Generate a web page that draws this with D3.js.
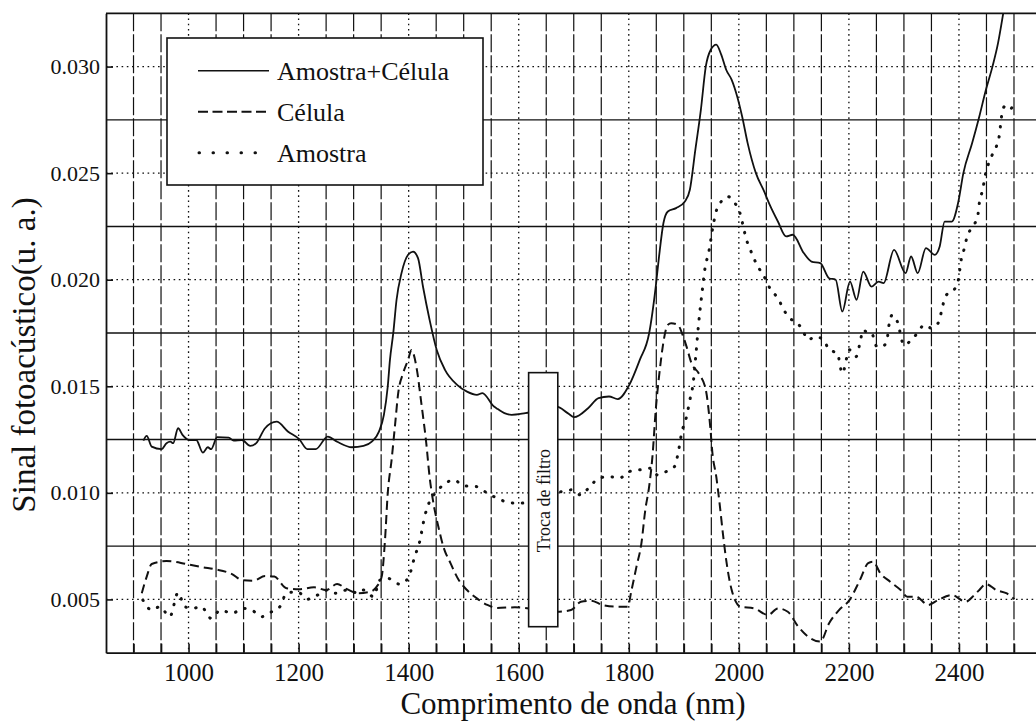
<!DOCTYPE html>
<html>
<head>
<meta charset="utf-8">
<script src="https://cdn.jsdelivr.net/npm/d3@7"></script>
<style>
  html, body { margin: 0; padding: 0; background: #fff; }
  svg { display: block; }
  text { font-family: "Liberation Serif", "DejaVu Serif", serif; fill: #111; }
</style>
</head>
<body>
<svg id="chart" width="1036" height="722"></svg>
<script>
// ---------------- data ----------------
const wavelengthLabelTicks = [1000, 1200, 1400, 1600, 1800, 2000, 2200, 2400];
const wavelengthGridTicks = [900, 950, 1000, 1050, 1100, 1150, 1200, 1250, 1300, 1350, 1400, 1450, 1500,
  1550, 1600, 1650, 1700, 1750, 1800, 1850, 1900, 1950, 2000, 2050, 2100, 2150, 2200, 2250, 2300,
  2350, 2400, 2450, 2500];
const signalTicks = [0.005, 0.010, 0.015, 0.020, 0.025, 0.030];
const signalMidLines = [0.0075, 0.0125, 0.0175, 0.0225, 0.0275];
const seriesNames = ["Amostra+Célula", "Célula", "Amostra"];

const amostraCelulaNm = [918, 924, 933, 951, 960, 967, 972, 981, 989, 1001, 1014, 1026, 1035, 1041, 1052,
  1073, 1082, 1097, 1112, 1123, 1139, 1160, 1181, 1201, 1216, 1231, 1253, 1270, 1297, 1318, 1333, 1346,
  1355, 1362, 1366, 1372, 1378, 1387, 1399, 1408, 1417, 1426, 1438, 1451, 1466, 1488, 1506, 1524, 1534,
  1555, 1562, 1574, 1587, 1612, 1669, 1689, 1701, 1726, 1745, 1764, 1780, 1801, 1820, 1837, 1849, 1855,
  1863, 1871, 1886, 1902, 1911, 1921, 1931, 1940, 1949, 1959, 1968, 1977, 1987, 1997, 2006, 2016, 2031,
  2046, 2056, 2071, 2086, 2098, 2118, 2132, 2148, 2164, 2176, 2188, 2202, 2214, 2226, 2241, 2254, 2263,
  2282, 2303, 2313, 2325, 2340, 2356, 2365, 2374, 2387, 2399, 2408, 2424, 2437, 2449, 2461, 2471, 2480, 2486];
const amostraCelulaSignal = [0.01245, 0.01267, 0.01217, 0.01205, 0.01233, 0.0124, 0.01233, 0.01303, 0.01272,
  0.01248, 0.01248, 0.01189, 0.01214, 0.01205, 0.01261, 0.01259, 0.01245, 0.01248, 0.0122, 0.01233, 0.01303,
  0.01334, 0.01287, 0.01252, 0.01205, 0.01205, 0.01264, 0.0124, 0.01214, 0.0122, 0.0124, 0.01287, 0.01366,
  0.01499, 0.01624, 0.01749, 0.01906, 0.02031, 0.02117, 0.02132, 0.02101, 0.01968, 0.01812, 0.0167, 0.01577,
  0.01507, 0.01475, 0.0146, 0.01468, 0.01405, 0.01393, 0.01374, 0.01366, 0.01374, 0.01405, 0.01374, 0.01355,
  0.01397, 0.01444, 0.01452, 0.0144, 0.01507, 0.01624, 0.01749, 0.01968, 0.02109, 0.02266, 0.0232, 0.02336,
  0.02367, 0.02422, 0.0261, 0.02797, 0.03001, 0.03079, 0.03103, 0.03056, 0.02985, 0.02938, 0.0286, 0.02766,
  0.02641, 0.025, 0.02414, 0.02352, 0.02273, 0.02203, 0.02211, 0.02125, 0.02085, 0.02078, 0.02007, 0.02,
  0.01851, 0.01991, 0.01906, 0.02038, 0.01968, 0.01991, 0.01984, 0.0214, 0.02031, 0.02109, 0.02031, 0.02148,
  0.02117, 0.02156, 0.02273, 0.02273, 0.02367, 0.025, 0.02641, 0.02766, 0.02891, 0.03001, 0.0311, 0.03243, 0.0334];

const celulaNm = [915, 924, 933, 960, 996, 1026, 1049, 1079, 1097, 1118, 1139, 1156, 1178, 1201, 1228, 1250,
  1270, 1288, 1309, 1330, 1342, 1351, 1357, 1362, 1369, 1375, 1381, 1390, 1399, 1405, 1415, 1423, 1432, 1438,
  1444, 1454, 1463, 1476, 1491, 1506, 1524, 1543, 1561, 1593, 1669, 1695, 1713, 1732, 1752, 1777, 1798, 1805,
  1814, 1823, 1830, 1837, 1843, 1849, 1855, 1871, 1877, 1889, 1899, 1905, 1914, 1927, 1940, 1948, 1952, 1959,
  1965, 1971, 1977, 1987, 2003, 2028, 2053, 2071, 2089, 2108, 2126, 2148, 2164, 2182, 2201, 2220, 2235, 2244,
  2257, 2275, 2294, 2306, 2322, 2344, 2362, 2387, 2412, 2428, 2437, 2449, 2468, 2486, 2501];
const celulaSignal = [0.00529, 0.00607, 0.00666, 0.0068, 0.00666, 0.00651, 0.00641, 0.00619, 0.00591, 0.00588,
  0.0061, 0.00607, 0.00552, 0.00548, 0.00557, 0.00544, 0.00572, 0.00548, 0.00529, 0.00536, 0.0056, 0.00607,
  0.00779, 0.00998, 0.01155, 0.01311, 0.01468, 0.01562, 0.01625, 0.0167, 0.01577, 0.01421, 0.01233, 0.01076,
  0.00967, 0.00841, 0.00748, 0.0067, 0.00591, 0.00544, 0.00505, 0.00474, 0.0046, 0.00463, 0.00442, 0.0045,
  0.00489, 0.00494, 0.00474, 0.00466, 0.00466, 0.00544, 0.00654, 0.00764, 0.0092, 0.01029, 0.0117, 0.01389,
  0.01546, 0.01788, 0.01796, 0.01788, 0.01733, 0.01686, 0.01608, 0.01561, 0.01483, 0.01311, 0.01186, 0.01076,
  0.00951, 0.0081, 0.00685, 0.00544, 0.00466, 0.00458, 0.00427, 0.00458, 0.00442, 0.00372, 0.00325, 0.00302,
  0.00388, 0.0045, 0.00497, 0.00591, 0.0067, 0.00677, 0.00623, 0.00583, 0.00544, 0.00513, 0.00513, 0.00474,
  0.00497, 0.00521, 0.00489, 0.00521, 0.00544, 0.00572, 0.00544, 0.00529, 0.00501];

const amostraNm = [917, 933, 948, 966, 981, 993, 1007, 1023, 1041, 1058, 1079, 1100, 1115, 1133, 1151, 1166,
  1178, 1198, 1216, 1235, 1253, 1267, 1288, 1309, 1318, 1336, 1348, 1362, 1383, 1399, 1411, 1420, 1429, 1438,
  1448, 1463, 1482, 1500, 1524, 1543, 1561, 1581, 1600, 1669, 1695, 1713, 1729, 1746, 1764, 1783, 1801, 1820,
  1840, 1852, 1868, 1883, 1889, 1896, 1905, 1911, 1917, 1922, 1927, 1933, 1939, 1945, 1953, 1958, 1968, 1980,
  1993, 2002, 2008, 2013, 2021, 2030, 2049, 2058, 2071, 2080, 2092, 2102, 2114, 2126, 2139, 2154, 2164, 2179,
  2188, 2201, 2213, 2220, 2226, 2235, 2241, 2251, 2260, 2269, 2272, 2279, 2288, 2300, 2319, 2338, 2350, 2362,
  2369, 2375, 2393, 2400, 2403, 2409, 2415, 2425, 2434, 2437, 2443, 2448, 2459, 2468, 2474, 2477, 2483, 2492, 2502];
const amostraSignal = [0.00497, 0.0045, 0.00466, 0.00419, 0.00532, 0.00466, 0.00458, 0.00466, 0.00411, 0.0045,
  0.00435, 0.00458, 0.0045, 0.00419, 0.00442, 0.00466, 0.00529, 0.00536, 0.00501, 0.00521, 0.00544, 0.00529,
  0.00544, 0.00529, 0.00544, 0.00513, 0.00591, 0.00599, 0.00572, 0.00599, 0.00701, 0.00771, 0.00888, 0.00959,
  0.00998, 0.01037, 0.01061, 0.01033, 0.01029, 0.00998, 0.00975, 0.00955, 0.00951, 0.01, 0.01014, 0.0099,
  0.01029, 0.01069, 0.01076, 0.01069, 0.011, 0.01108, 0.01116, 0.01084, 0.011, 0.01123, 0.01178, 0.0128,
  0.01358, 0.01436, 0.01515, 0.0165, 0.01796, 0.01937, 0.02062, 0.02125, 0.0225, 0.02313, 0.02367, 0.0239,
  0.02359, 0.02313, 0.0225, 0.02195, 0.0214, 0.02085, 0.02, 0.01952, 0.01914, 0.01867, 0.0182, 0.01804,
  0.01773, 0.01718, 0.01733, 0.01718, 0.01671, 0.01655, 0.01561, 0.01671, 0.01639, 0.01702, 0.01765, 0.01749,
  0.01749, 0.01686, 0.01686, 0.0171, 0.01773, 0.01835, 0.01804, 0.01694, 0.01733, 0.01788, 0.01773, 0.01796,
  0.01859, 0.01921, 0.0196, 0.02015, 0.02078, 0.0214, 0.02203, 0.0225, 0.02297, 0.02359, 0.02422, 0.02492,
  0.02578, 0.02625, 0.02688, 0.02759, 0.02813, 0.02797, 0.02844];

const annotationText = "Troca de filtro";
const annotationNm = [1618, 1671];
const annotationSignal = [0.00372, 0.01564];

// ---------------- drawing ----------------
(function () {
const svg = d3.select("#chart");
const mLeft = 106, mRight = 1041.5, mTop = 13.3, mBottom = 652.7;
const x = d3.scaleLinear().domain([850, 2550]).range([mLeft, mRight]);
const y = d3.scaleLinear().domain([0.0025, 0.0325]).range([mBottom, mTop]);
const ink = "#111";

svg.append("defs").append("clipPath").attr("id", "plotclip")
  .append("rect").attr("x", mLeft).attr("y", mTop).attr("width", mRight - mLeft).attr("height", mBottom - mTop);

// grid lines
const grid = svg.append("g");
grid.selectAll("line.vg").data(wavelengthGridTicks).join("line").attr("class", "vg")
  .attr("x1", d => x(d)).attr("x2", d => x(d)).attr("y1", mTop).attr("y2", mBottom)
  .attr("stroke", ink).attr("stroke-width", d => d % 200 === 0 ? 1.3 : 1.2)
  .attr("stroke-dasharray", d => d % 200 === 0 ? "1.6,3.6" : "18,3");
grid.selectAll("line.hd").data(signalTicks).join("line").attr("class", "hd")
  .attr("x1", mLeft).attr("x2", mRight).attr("y1", d => y(d)).attr("y2", d => y(d))
  .attr("stroke", ink).attr("stroke-width", 1.3).attr("stroke-dasharray", "1.6,3.6");
grid.selectAll("line.hs").data(signalMidLines).join("line").attr("class", "hs")
  .attr("x1", mLeft).attr("x2", mRight).attr("y1", d => y(d)).attr("y2", d => y(d))
  .attr("stroke", ink).attr("stroke-width", 1.4);

// curves
const line = d3.line().x(d => x(d[0])).y(d => y(d[1])).curve(d3.curveMonotoneX);
const series = [
  { name: seriesNames[0], pts: d3.zip(amostraCelulaNm, amostraCelulaSignal), dash: null, w: 1.8, cap: "butt" },
  { name: seriesNames[1], pts: d3.zip(celulaNm, celulaSignal), dash: "9,5", w: 2, cap: "butt" },
  { name: seriesNames[2], pts: d3.zip(amostraNm, amostraSignal), dash: "0.5,9.5", w: 3, cap: "round" }
];
const curves = svg.append("g").attr("clip-path", "url(#plotclip)");
curves.selectAll("path").data(series).join("path")
  .attr("d", d => line(d.pts))
  .attr("fill", "none").attr("stroke", ink)
  .attr("stroke-width", d => d.w)
  .attr("stroke-linecap", d => d.cap)
  .attr("stroke-dasharray", d => d.dash);

// axes
const xAxis = d3.axisBottom(x).tickValues(wavelengthGridTicks)
  .tickSizeInner(-9).tickSizeOuter(0).tickPadding(11)
  .tickFormat(d => wavelengthLabelTicks.includes(d) ? String(d) : "");
const gx = svg.append("g").attr("transform", `translate(0,${mBottom})`).call(xAxis);
gx.select(".domain").attr("stroke", ink).attr("stroke-width", 1.8);
gx.selectAll(".tick line").attr("stroke", ink).attr("stroke-width", 1.6);
gx.selectAll(".tick text").attr("font-size", 25).attr("font-family", "Liberation Serif").attr("fill", ink);

const yAxis = d3.axisLeft(y).tickValues(signalTicks)
  .tickSizeInner(-7).tickSizeOuter(0).tickPadding(6)
  .tickFormat(d3.format(".3f"));
const gy = svg.append("g").attr("transform", `translate(${mLeft},0)`).call(yAxis);
gy.select(".domain").attr("stroke", ink).attr("stroke-width", 1.8);
gy.selectAll(".tick line").attr("stroke", ink).attr("stroke-width", 1.6);
gy.selectAll(".tick text").attr("font-size", 22).attr("font-family", "Liberation Serif").attr("fill", ink);

// top spine
svg.append("line").attr("x1", mLeft).attr("x2", mRight).attr("y1", mTop).attr("y2", mTop)
  .attr("stroke", ink).attr("stroke-width", 1.8);

// axis titles
svg.append("text").attr("x", 573).attr("y", 714).attr("text-anchor", "middle")
  .attr("font-size", 31).text("Comprimento de onda (nm)");
svg.append("text").attr("transform", "translate(35,355) rotate(-90)").attr("text-anchor", "middle")
  .attr("font-size", 33).text("Sinal fotoacústico(u. a.)");

// legend
const lg = svg.append("g");
lg.append("rect").attr("x", 167).attr("y", 38).attr("width", 316).attr("height", 147)
  .attr("fill", "#fff").attr("stroke", ink).attr("stroke-width", 1.6);
const legendDash = [null, "10,4.5", "0.5,13.5"];
const legendW = [1.6, 2, 3];
const legendCap = ["butt", "butt", "round"];
seriesNames.forEach((name, i) => {
  const ly = 70.7 + i * 41;
  lg.append("line").attr("x1", i === 2 ? 199 : 198).attr("x2", 269).attr("y1", ly).attr("y2", ly)
    .attr("stroke", ink).attr("stroke-width", legendW[i])
    .attr("stroke-linecap", legendCap[i]).attr("stroke-dasharray", legendDash[i]);
  lg.append("text").attr("x", 277).attr("y", ly + 9.5).attr("font-size", 26).text(name);
});

// "Troca de filtro" annotation box
const ax0 = x(annotationNm[0]), ax1 = x(annotationNm[1]);
const ay0 = y(annotationSignal[1]), ay1 = y(annotationSignal[0]);
svg.append("rect").attr("x", ax0).attr("y", ay0).attr("width", ax1 - ax0).attr("height", ay1 - ay0)
  .attr("fill", "#fff").attr("stroke", ink).attr("stroke-width", 1.6);
svg.append("text")
  .attr("transform", `translate(${(ax0 + ax1) / 2 + 1},${(ay0 + ay1) / 2 + 1}) rotate(-90)`)
  .attr("text-anchor", "middle").attr("dominant-baseline", "central")
  .attr("font-size", 18).text(annotationText);
})();
</script>
</body>
</html>
